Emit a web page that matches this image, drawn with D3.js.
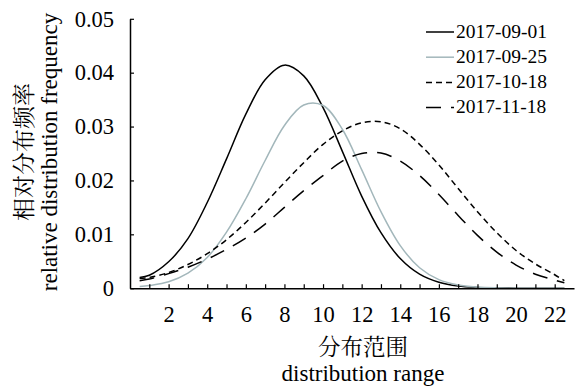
<!DOCTYPE html>
<html>
<head>
<meta charset="utf-8">
<script src="https://cdn.jsdelivr.net/npm/d3@7"></script>
<style>
  body { margin: 0; background: #fff; }
  svg { display: block; }
</style>
</head>
<body>
<div id="chart"></div>
<script>
'use strict';

var LATIN = '"Liberation Serif", "Times New Roman", serif';
var CJK = '"Noto Serif CJK SC", "Noto Sans CJK SC", serif';

// sample positions along the distribution range
var xs = [0.5, 1, 2, 3, 4, 5, 6, 7, 8, 9, 10, 11, 12, 13, 14, 15, 16, 17, 18, 19, 20, 21, 22, 22.5];

// relative distribution frequency
var sep01 = [0.0020, 0.0024, 0.0049, 0.0092, 0.0159, 0.0240, 0.0323, 0.0387, 0.0414, 0.0394, 0.0335, 0.0254, 0.0171, 0.0103, 0.0055, 0.0026, 0.0011, 0.0004, 0.00015, 0.00005, 0, 0, 0, 0];
var sep25 = [0.0003, 0.0005, 0.0012, 0.0028, 0.0057, 0.0104, 0.0166, 0.0237, 0.0302, 0.0340, 0.0339, 0.0295, 0.0220, 0.0142, 0.0079, 0.0038, 0.0016, 0.0006, 0.0002, 0.00005, 0, 0, 0, 0];
var oct18 = [0.0018, 0.0020, 0.0029, 0.0044, 0.0064, 0.0090, 0.0122, 0.0158, 0.0196, 0.0233, 0.0267, 0.0292, 0.0307, 0.0309, 0.0296, 0.0267, 0.0229, 0.0185, 0.0142, 0.0103, 0.0070, 0.0045, 0.0025, 0.0014];
var nov18 = [0.0014, 0.0017, 0.0027, 0.0039, 0.0054, 0.0072, 0.0093, 0.0119, 0.0150, 0.0181, 0.0209, 0.0236, 0.0250, 0.0251, 0.0236, 0.0209, 0.0174, 0.0135, 0.0098, 0.0067, 0.0043, 0.0026, 0.0015, 0.0010];

var seriesNames = ['2017-09-01', '2017-09-25', '2017-10-18', '2017-11-18'];
var seriesValues = [sep01, sep25, oct18, nov18];

var yTicks = [0, 0.01, 0.02, 0.03, 0.04, 0.05];
var xTicks = d3.range(1, 23);

var styles = [
  { color: '#000', dash: null },
  { color: '#a3b7bb', dash: null },
  { color: '#000', dash: '6,4' },
  { color: '#000', dash: '15,10' }
];

var width = 575, height = 392;

var x = d3.scaleLinear().domain([0, 23]).range([130, 574]);
var y = d3.scaleLinear().domain([0, 0.05]).range([288.2, 18.8]);

var svg = d3.select('#chart').append('svg')
  .attr('width', width)
  .attr('height', height);

// curves
var line = d3.line()
  .x(function(d) { return x(d[0]); })
  .y(function(d) { return y(Math.max(0, d[1])); })
  .curve(d3.curveCatmullRom.alpha(0.5));

seriesValues.forEach(function(vals, i) {
  var pts = xs.map(function(v, j) { return [v, vals[j]]; });
  svg.append('path')
    .datum(pts)
    .attr('fill', 'none')
    .attr('stroke', styles[i].color)
    .attr('stroke-width', 1.5)
    .attr('stroke-dasharray', styles[i].dash)
    .attr('d', line);
});

// axes
var yAxis = svg.append('g')
  .attr('transform', 'translate(' + x(0) + ',0)')
  .call(d3.axisLeft(y)
    .tickValues(yTicks)
    .tickFormat(function(d) { return d === 0 ? '0' : d3.format('.2f')(d); })
    .tickSizeInner(-4)
    .tickSizeOuter(0)
    .tickPadding(16));

var xAxis = svg.append('g')
  .attr('transform', 'translate(0,' + y(0) + ')')
  .call(d3.axisBottom(x)
    .tickValues(xTicks)
    .tickFormat(function(d) { return d % 2 === 0 ? d : ''; })
    .tickSizeInner(-4)
    .tickSizeOuter(0)
    .tickPadding(18));

[yAxis, xAxis].forEach(function(g) {
  g.selectAll('.domain').attr('stroke', '#000').attr('stroke-width', 1.5);
  g.selectAll('.tick line').attr('stroke', '#000').attr('stroke-width', 1.2);
  g.selectAll('text')
    .style('font-family', LATIN)
    .style('font-size', '22.5px')
    .attr('fill', '#000');
});

// axis titles
svg.append('text')
  .attr('transform', 'translate(32,152) rotate(-90)')
  .attr('text-anchor', 'middle')
  .style('font-family', CJK)
  .style('font-size', '23px')
  .text('相对分布频率');

svg.append('text')
  .attr('transform', 'translate(57,152) rotate(-90)')
  .attr('text-anchor', 'middle')
  .style('font-family', LATIN)
  .style('font-size', '23px')
  .text('relative distribution frequency');

svg.append('text')
  .attr('x', 363)
  .attr('y', 354.5)
  .attr('text-anchor', 'middle')
  .style('font-family', CJK)
  .style('font-size', '22.5px')
  .text('分布范围');

svg.append('text')
  .attr('x', 363)
  .attr('y', 381)
  .attr('text-anchor', 'middle')
  .style('font-family', LATIN)
  .style('font-size', '23px')
  .text('distribution range');

// legend
var legend = svg.append('g').attr('class', 'legend');
seriesNames.forEach(function(name, i) {
  var ly = 32 + i * 25.2;
  legend.append('line')
    .attr('x1', 426).attr('x2', 454)
    .attr('y1', ly).attr('y2', ly)
    .attr('stroke', styles[i].color)
    .attr('stroke-width', 1.5)
    .attr('stroke-dasharray', styles[i].dash);
  legend.append('text')
    .attr('x', 456)
    .attr('y', ly)
    .attr('dy', '0.3em')
    .style('font-family', LATIN)
    .style('font-size', '19.5px')
    .text(name);
});
</script>
</body>
</html>
